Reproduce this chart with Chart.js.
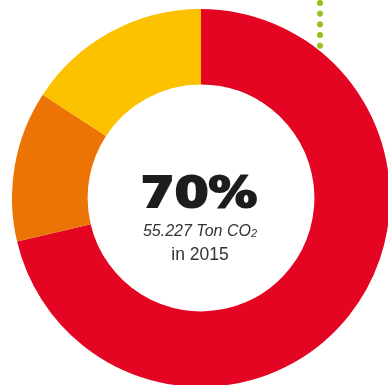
<!DOCTYPE html>
<html>
<head>
<meta charset="utf-8">
<script src="https://cdn.jsdelivr.net/npm/chart.js@4"></script>
<style>
  html, body { margin: 0; padding: 0; background: #fff; }
  body { width: 388px; height: 385px; overflow: hidden; position: relative; }
  #wrap { position: absolute; left: 12px; top: 9px; width: 378px; height: 378px; }
  #dots { position: absolute; left: 316px; top: -1px; width: 8px; height: 51px;
          background: radial-gradient(circle at 4px 4px, #95c11f 2.7px, rgba(149,193,31,0) 3.4px);
          background-size: 8px 10.7px; }
  .line { position: absolute; left: 0; width: 400px; text-align: center; pointer-events: none; white-space: nowrap; }
  #big { left: -1.5px; top: 171px; font-family: "DejaVu Sans", sans-serif; font-weight: bold; font-size: 43px; line-height: 43px;
         color: #1d1d1b; -webkit-text-stroke: 2.2px #1d1d1b; transform: scaleX(1.13); }
  #sub1 { top: 223px; font-family: "Liberation Sans", Arial, sans-serif; font-style: italic; font-size: 16px; line-height: 16px; color: #333; }
  #sub1 sub { font-size: 11px; vertical-align: -1px; line-height: 0; }
  #sub2 { top: 246px; font-family: "Liberation Sans", Arial, sans-serif; font-size: 17.5px; line-height: 17px; color: #333; }
</style>
</head>
<body>
<div id="wrap"><canvas id="donut"></canvas></div>
<div id="dots"></div>
<div class="line" id="big">70%</div>
<div class="line" id="sub1">55.227 Ton CO<sub>2</sub></div>
<div class="line" id="sub2">in 2015</div>
<script>
  // share of the circle
  const categories = ['A', 'B', 'C'];
  const shares = [71.3, 12.9, 15.8];
  const colors = ['#e30521', '#ec7404', '#fcc200'];

  const ctx = document.getElementById('donut').getContext('2d');
  new Chart(ctx, {
    type: 'doughnut',
    data: {
      labels: categories,
      datasets: [{
        data: shares,
        backgroundColor: colors,
        borderWidth: 0
      }]
    },
    options: {
      responsive: true,
      maintainAspectRatio: false,
      animation: false,
      cutout: '60%',
      layout: { padding: 0 },
      plugins: {
        legend: { display: false },
        tooltip: { enabled: false }
      }
    }
  });
</script>
</body>
</html>
